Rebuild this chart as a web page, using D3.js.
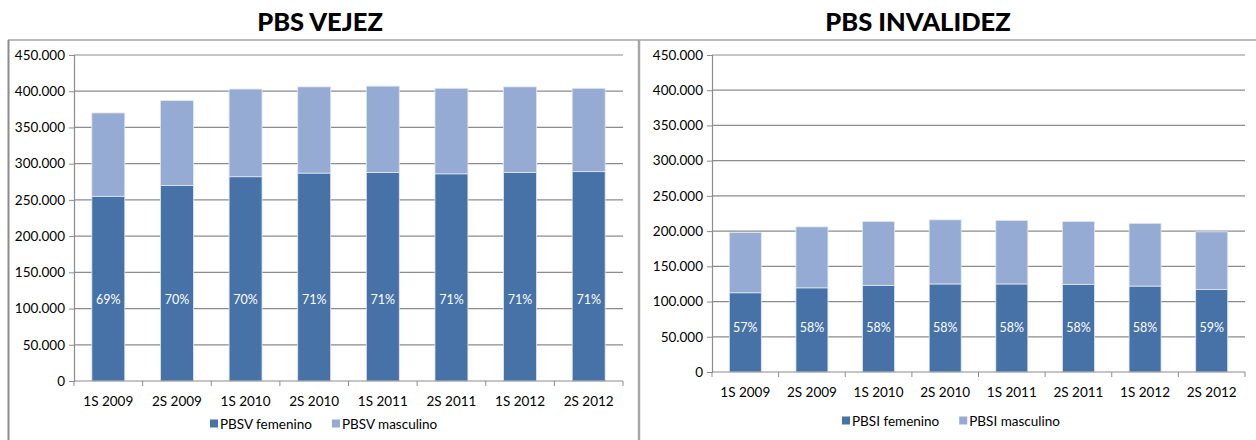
<!DOCTYPE html>
<html>
<head>
<meta charset="utf-8">
<script src="https://cdn.jsdelivr.net/npm/d3@7"></script>
<style>
  body { margin: 0; background: #fff; }
  svg { display: block; font-family: Lato, "Open Sans", sans-serif; }
</style>
</head>
<body>
<svg id="chart" width="1256" height="440"></svg>
<script>
// periods shared by both charts
const periods = ["1S 2009", "2S 2009", "1S 2010", "2S 2010", "1S 2011", "2S 2011", "1S 2012", "2S 2012"]

// PBS vejez (number of beneficiaries)
const vejezFemenino = [255000, 270000, 282000, 287000, 288000, 286000, 288000, 289000]
const vejezMasculino = [115000, 117000, 121000, 119000, 119000, 118000, 118000, 115000]
const vejezPct = ["69%", "70%", "70%", "71%", "71%", "71%", "71%", "71%"]

// PBS invalidez
const invalidezFemenino = [112500, 119500, 123000, 125000, 125000, 124500, 122000, 117000]
const invalidezMasculino = [85500, 86500, 90500, 91000, 90000, 89000, 89000, 82000]
const invalidezPct = ["57%", "58%", "58%", "58%", "58%", "58%", "58%", "59%"]

const yTicks = [0, 50000, 100000, 150000, 200000, 250000, 300000, 350000, 400000, 450000]

const colorFem = "#4672a8"
const colorMas = "#95abd3"
const gridColor = "#8c8c8c"

const svg = d3.select("#chart")

// frames round the two charts
svg.append("line").attr("x1", 8).attr("x2", 1256).attr("y1", 40).attr("y2", 40)
    .attr("stroke", "#a6a6a6").attr("stroke-width", 1.5)
svg.append("line").attr("x1", 8.5).attr("x2", 8.5).attr("y1", 40).attr("y2", 440)
    .attr("stroke", "#8c8c8c").attr("stroke-width", 2)
svg.append("line").attr("x1", 639).attr("x2", 639).attr("y1", 40).attr("y2", 440)
    .attr("stroke", "#a6a6a6").attr("stroke-width", 2.5)

const fmt = d3.format(",")
function fmtNum(v) { return fmt(v).replace(/,/g, ".") }

function drawChart(opt) {
    const g = svg.append("g")

    // title
    g.append("text")
        .attr("x", opt.titleX).attr("y", 31)
        .attr("text-anchor", "middle")
        .style("font-family", "Lato, sans-serif")
        .style("font-weight", "900")
        .style("font-size", "25.5px")
        .attr("fill", "#000")
        .text(opt.title)

    const x = d3.scaleBand()
        .domain(periods)
        .range([opt.left, opt.right])
        .paddingInner(0.52)
        .paddingOuter(0.26)

    const y = d3.scaleLinear()
        .domain([0, 450000])
        .range([opt.bottom, opt.top])

    // gridlines
    g.append("g")
        .selectAll("line")
        .data(yTicks.filter(d => d > 0))
        .enter()
        .append("line")
        .attr("x1", opt.left).attr("x2", opt.right)
        .attr("y1", d => y(d)).attr("y2", d => y(d))
        .attr("stroke", gridColor).attr("stroke-width", 1.2)

    // stacked bars
    const rows = periods.map((p, i) => ({p: p, fem: opt.fem[i], mas: opt.mas[i], pct: opt.pct[i]}))
    const stack = d3.stack().keys(["fem", "mas"])(rows)
    const colors = {fem: colorFem, mas: colorMas}

    g.append("g")
        .selectAll("g")
        .data(stack)
        .enter()
        .append("g")
        .attr("fill", d => colors[d.key])
        .selectAll("rect")
        .data(d => d)
        .enter()
        .append("rect")
        .attr("x", d => x(d.data.p))
        .attr("y", d => y(d[1]))
        .attr("width", x.bandwidth())
        .attr("height", d => y(d[0]) - y(d[1]))
        .attr("stroke", "#dfe6f1")
        .attr("stroke-width", 0.8)

    // percentage labels inside the female part
    g.append("g")
        .selectAll("text")
        .data(rows)
        .enter()
        .append("text")
        .attr("x", d => x(d.p) + x.bandwidth() / 2)
        .attr("y", d => y(opt.labelAt(d)))
        .attr("dy", "0.35em")
        .attr("text-anchor", "middle")
        .attr("fill", "#fff")
        .style("font-size", "12.5px")
        .text(d => d.pct)

    // y axis
    const yAxis = g.append("g")
        .attr("transform", "translate(" + opt.left + ",0)")
        .call(d3.axisLeft(y).tickValues(yTicks).tickFormat(fmtNum).tickSize(5).tickPadding(4))
    yAxis.select(".domain").attr("stroke", gridColor).attr("stroke-width", 1.2)
    yAxis.selectAll(".tick line").attr("stroke", gridColor)
    yAxis.selectAll("text").style("font-size", "13.5px").attr("fill", "#000")
        .style("font-family", "Lato, sans-serif")

    // x axis, ticks on category boundaries
    const xAxis = g.append("g")
        .attr("transform", "translate(0," + opt.bottom + ")")
        .call(d3.axisBottom(x).tickSize(0).tickPadding(15))
    xAxis.select(".domain").remove()
    xAxis.selectAll("text").style("font-size", "13.5px").attr("fill", "#000")
        .style("font-family", "Lato, sans-serif")
    g.append("line")
        .attr("x1", opt.left).attr("x2", opt.right)
        .attr("y1", opt.bottom).attr("y2", opt.bottom)
        .attr("stroke", gridColor).attr("stroke-width", 1.2)
    g.append("g")
        .selectAll("line")
        .data(d3.range(periods.length + 1))
        .enter()
        .append("line")
        .attr("x1", i => opt.left + i * (opt.right - opt.left) / periods.length)
        .attr("x2", i => opt.left + i * (opt.right - opt.left) / periods.length)
        .attr("y1", opt.bottom).attr("y2", opt.bottom + 5)
        .attr("stroke", gridColor)

    // legend
    const leg = g.append("g").attr("transform", "translate(0," + opt.legendY + ")")
    let lx = opt.legendX
    opt.legend.forEach((name, i) => {
        leg.append("rect")
            .attr("x", lx).attr("y", -4.5)
            .attr("width", 8).attr("height", 8)
            .attr("fill", i === 0 ? colorFem : colorMas)
        const t = leg.append("text")
            .attr("x", lx + 10).attr("y", 0)
            .attr("dy", "0.35em")
            .style("font-size", "13.5px")
            .text(name)
        lx += 10 + t.node().getComputedTextLength() + 20
    })
}

drawChart({
    title: "PBS VEJEZ", titleX: 320,
    left: 74, right: 623, top: 55, bottom: 381,
    fem: vejezFemenino, mas: vejezMasculino, pct: vejezPct,
    labelAt: d => 113000,
    legend: ["PBSV femenino", "PBSV masculino"], legendX: 210, legendY: 424
})

drawChart({
    title: "PBS INVALIDEZ", titleX: 918,
    left: 712, right: 1245, top: 55, bottom: 372,
    fem: invalidezFemenino, mas: invalidezMasculino, pct: invalidezPct,
    labelAt: d => 63000,
    legend: ["PBSI femenino", "PBSI masculino"], legendX: 842, legendY: 421
})
</script>
</body>
</html>
